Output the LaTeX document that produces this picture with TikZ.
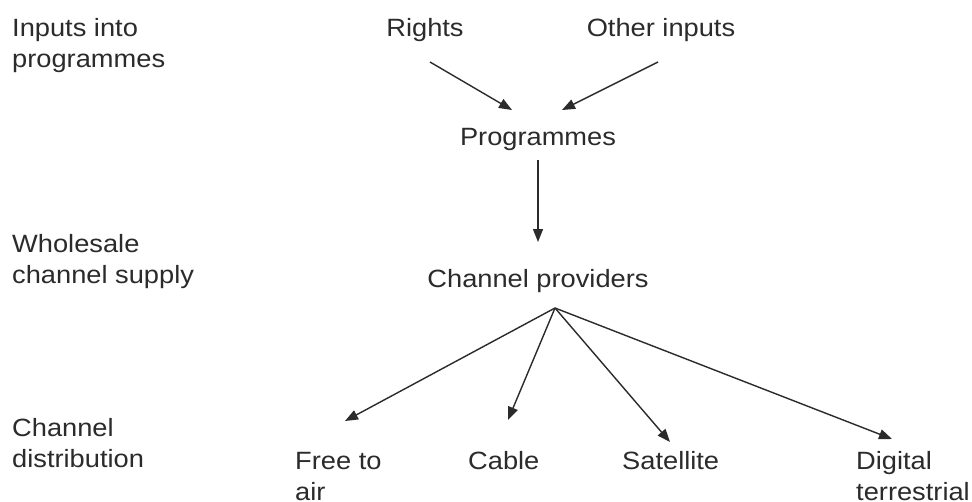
\documentclass[tikz,border=0pt]{standalone}
\usepackage{fontspec}
\setmainfont[FakeStretch=1.09]{Liberation Sans}
\usetikzlibrary{arrows.meta}
\definecolor{ink}{HTML}{2B2B2B}
\begin{document}
\begin{tikzpicture}[x=1pt,y=-1pt,
  lbl/.style={font=\fontsize{25}{31}\selectfont, text=ink, inner sep=0pt, align=left},
  arr/.style={draw=ink, line width=1.4pt, -{Triangle[length=13pt,width=10pt]}}]
\useasboundingbox (0,0) rectangle (972,501);
\fill[white] (0,0) rectangle (972,501);

% level captions on the left (anchored on the baseline of their last line)
\node[lbl, anchor=base west] (capIn)   at (12,67)  {Inputs into\\programmes};
\node[lbl, anchor=base west] (capWh)   at (12,283) {Wholesale\\channel supply};
\node[lbl, anchor=base west] (capDist) at (12,467) {Channel\\distribution};

% chain of supply
\node[lbl, anchor=base] (rights) at (425,36)  {Rights};
\node[lbl, anchor=base] (other)  at (661,36)  {Other inputs};
\node[lbl, anchor=base] (prog)   at (538,145) {Programmes};
\node[lbl, anchor=base] (chan)   at (538,287) {Channel providers};

\node[lbl, anchor=base west] (fta)  at (295,500) {Free to\\air};
\node[lbl, anchor=base west] (cab)  at (468,469) {Cable};
\node[lbl, anchor=base west] (sat)  at (622,469) {Satellite};
\node[lbl, anchor=base west] (dtt)  at (856,500) {Digital\\terrestrial};

% connector end points
\coordinate (rOut) at (430,62);
\coordinate (pInL) at (512,110);
\coordinate (oOut) at (658,62);
\coordinate (pInR) at (562,110);
\coordinate (pOut) at (538,160);
\coordinate (cIn)  at (538,242);
\coordinate (hub)  at (555,308);
\coordinate (ftaIn) at (345,421);
\coordinate (cabIn) at (508,420);
\coordinate (satIn) at (670,442);
\coordinate (dttIn) at (892,439);

\draw[arr] (rOut) -- (pInL);
\draw[arr] (oOut) -- (pInR);
\draw[arr] (pOut) -- (cIn);
\draw[arr] (hub) -- (ftaIn);
\draw[arr] (hub) -- (cabIn);
\draw[arr] (hub) -- (satIn);
\draw[arr] (hub) -- (dttIn);
\end{tikzpicture}
\end{document}
